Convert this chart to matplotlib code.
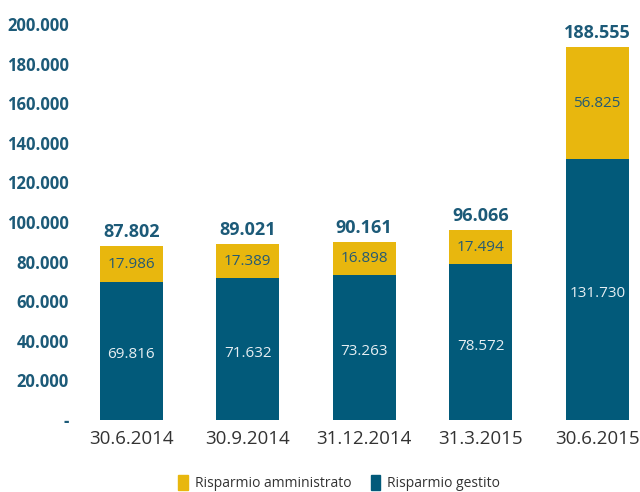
import matplotlib
matplotlib.use('Agg')
from matplotlib import pyplot as plt
from matplotlib.patches import Patch

# Data
categories = ['30.6.2014', '30.9.2014', '31.12.2014', '31.3.2015', '30.6.2015']
gestito = [69816, 71632, 73263, 78572, 131730]
amministrato = [17986, 17389, 16898, 17494, 56825]
totals = [87802, 89021, 90161, 96066, 188555]
y_ticks = [0, 20000, 40000, 60000, 80000, 100000, 120000, 140000, 160000, 180000, 200000]

BLUE = '#025a7a'
YELLOW = '#e8b70e'
LABEL = '#1c5a78'


def fmt(v):
    return '-' if v == 0 else f'{v:,}'.replace(',', '.')


plt.rcParams['font.family'] = ['Open Sans', 'DejaVu Sans']

fig = plt.figure(figsize=(6.4, 4.92), dpi=100)
ax = fig.add_axes([0.114, 0.1463, 0.886, 0.8047])

x = list(range(len(categories)))
width = 0.54
ax.bar(x, gestito, width, color=BLUE, label='Risparmio gestito')
ax.bar(x, amministrato, width, bottom=gestito, color=YELLOW, label='Risparmio amministrato')

for i in x:
    ax.text(i, gestito[i] / 2 - 2000, fmt(gestito[i]), ha='center', va='center',
            color='#e6eef2', fontsize=11)
    ax.text(i, gestito[i] + amministrato[i] / 2, fmt(amministrato[i]), ha='center',
            va='center', color='#255a74', fontsize=11)
    ax.text(i, totals[i] + 2500, fmt(totals[i]), ha='center', va='bottom',
            color=LABEL, fontsize=13, fontweight='bold')

ax.set_ylim(0, 200000)
ax.set_xlim(-0.5, 4.367)
ax.set_yticks(y_ticks)
ax.set_yticklabels([fmt(v) for v in y_ticks], fontweight='bold', color=LABEL, fontsize=12)
ax.set_xticks(x)
ax.set_xticklabels(categories, color='#333333', fontsize=13.5)
ax.tick_params(axis='both', length=0)
ax.tick_params(axis='y', pad=3)
ax.tick_params(axis='x', pad=7)
for s in ax.spines.values():
    s.set_visible(False)

handles = [Patch(color=YELLOW), Patch(color=BLUE)]
fig.legend(handles, ['Risparmio amministrato', 'Risparmio gestito'],
           loc='center', bbox_to_anchor=(0.53, 0.018), ncol=2, frameon=False,
           fontsize=10, handlelength=0.7, handleheight=1.3, handletextpad=0.5,
           columnspacing=1.4, labelcolor='#333333')

fig.savefig('out.png', dpi=100)
